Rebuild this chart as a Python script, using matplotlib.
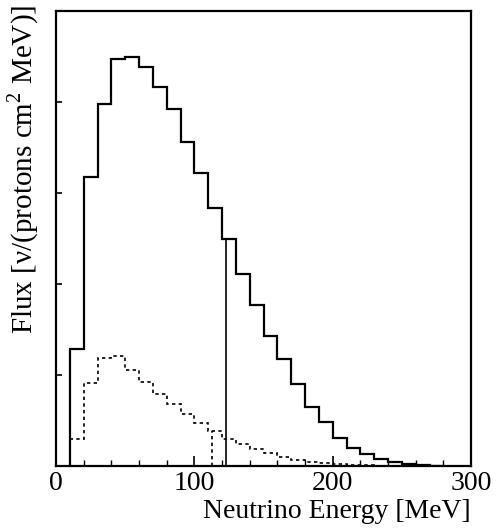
import matplotlib.pyplot as plt
import numpy as np
from matplotlib.ticker import MultipleLocator

plt.rcParams['font.family'] = ['Liberation Serif', 'DejaVu Serif']
plt.rcParams['mathtext.fontset'] = 'custom'
plt.rcParams['mathtext.rm'] = 'Liberation Serif'

# bin edges in MeV (10 MeV wide)
edges = np.arange(10, 290, 10)

# solid histogram (arbitrary flux units)
flux_total = [1.29, 3.18, 3.98, 4.47, 4.50, 4.38, 4.17, 3.92, 3.56, 3.22,
              2.84, 2.50, 2.11, 1.77, 1.43, 1.18, 0.90, 0.65, 0.48, 0.31,
              0.20, 0.13, 0.08, 0.04, 0.02, 0.006, 0.003]

# dashed histogram
flux_dashed = [0.30, 0.91, 1.19, 1.21, 1.06, 0.92, 0.79, 0.68, 0.57, 0.47,
               0.38, 0.30, 0.24, 0.19, 0.14, 0.10, 0.07, 0.047, 0.033, 0.022,
               0.014, 0.008, 0.004, 0.0, 0.0, 0.0, 0.0]

# cut positions (MeV)
cut_solid = 123
cut_dashed = 113

fig = plt.figure(figsize=(4.96, 5.29), dpi=100)
ax = fig.add_axes([56/496, 63/529, 415/496, 455/529])

ax.stairs(flux_total, edges, color='black', lw=1.6)
ax.stairs(flux_dashed, edges, color='black', lw=1.2, ls=(0, (2, 2)))

# vertical cut lines up to the histogram
i = np.searchsorted(edges, cut_solid) - 1
ax.plot([cut_solid, cut_solid], [0, flux_total[i]], color='black', lw=1.2)
j = np.searchsorted(edges, cut_dashed) - 1
ax.plot([cut_dashed, cut_dashed], [0, flux_dashed[j]], color='black', lw=1.2, ls=(0, (2, 2)))

ax.set_xlim(0, 300)
ax.set_ylim(0, 5)
ax.xaxis.set_major_locator(MultipleLocator(100))
ax.xaxis.set_minor_locator(MultipleLocator(20))
ax.yaxis.set_major_locator(MultipleLocator(1))
ax.set_yticklabels([])
ax.tick_params(direction='in', which='major', length=7, width=1.2, labelsize=20)
ax.tick_params(direction='in', which='minor', length=4, width=1.0)
ax.tick_params(axis='y', which='major', length=4)
for s in ax.spines.values():
    s.set_linewidth(1.6)

ax.set_xlabel('Neutrino Energy [MeV]', fontsize=20, loc='right', labelpad=2)
ax.set_ylabel('Flux [ν/(protons cm$^{2}$ MeV)]', fontsize=21, loc='top')
ax.yaxis.set_label_coords(-0.037, 1.013)

fig.savefig('out.png', dpi=100)
